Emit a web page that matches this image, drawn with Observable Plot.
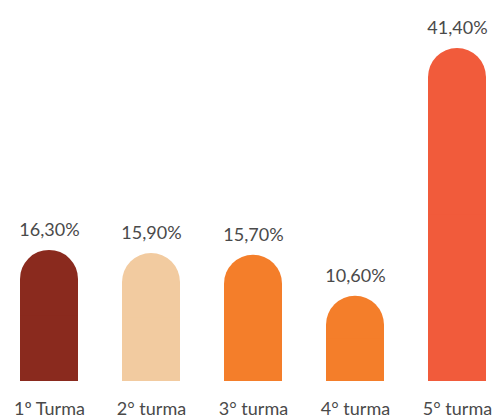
<!DOCTYPE html>
<html><head><meta charset="utf-8">
<script src="https://cdn.jsdelivr.net/npm/d3@7"></script>
<script src="https://cdn.jsdelivr.net/npm/@observablehq/plot@0.6"></script>
<style>body{margin:0;background:#fff}</style>
</head><body><div id="chart"></div>
<script>
const categories = ["1º Turma", "2° turma", "3° turma", "4° turma", "5° turma"];
const values = [16.3, 15.9, 15.7, 10.6, 41.4];
const colors = ["#8A2A1E", "#F2CBA0", "#F47E2A", "#F47E2A", "#F15B3B"];

const data = categories.map((c, i) => ({cat: c, value: values[i], color: colors[i]}));
const fmt = v => d3.format(".2f")(v).replace(".", ",") + "%";

const chart = Plot.plot({
  width: 493,
  height: 419,
  marginLeft: 18,
  marginRight: 6,
  marginTop: 48,
  marginBottom: 38,
  style: {fontFamily: "Lato, sans-serif", fontSize: "18px", color: "#4a4a4a", background: "#fff"},
  x: {domain: categories, paddingInner: 0.435, paddingOuter: 0, label: null},
  y: {domain: [0, 41.4], axis: null},
  marks: [
    Plot.barY(data, {x: "cat", y: "value", fill: "color", rx: 29}),
    Plot.barY(data, {x: "cat", y: d => d.value / 2, fill: "color"}),
    Plot.text(data, {x: "cat", y: "value", text: d => fmt(d.value), dy: -20, lineAnchor: "middle", fill: "#4a4a4a", fontSize: 18}),
    Plot.axisX({tickSize: 0, tickPadding: 21, fontSize: 18, fill: "#4a4a4a", label: null})
  ]
});
document.getElementById("chart").append(chart);
</script>
</body></html>
